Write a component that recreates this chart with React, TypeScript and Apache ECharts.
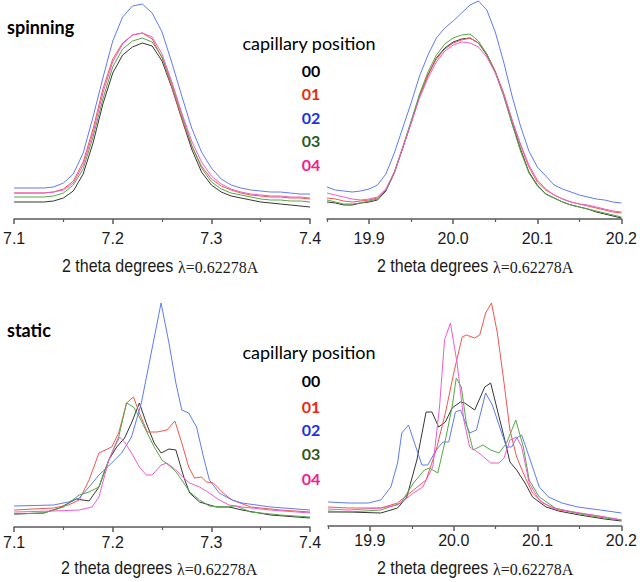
import React, { useEffect, useRef } from "react";
import * as echarts from "echarts";

// ---------- data (intensity in arbitrary units) ----------
const spinLowTheta = [7.10, 7.11, 7.12, 7.13, 7.14, 7.15, 7.16, 7.17, 7.18, 7.19, 7.20, 7.21, 7.22, 7.23, 7.24, 7.25, 7.26, 7.27, 7.28, 7.29, 7.30, 7.31, 7.32, 7.33, 7.34, 7.35, 7.36, 7.37, 7.38, 7.39, 7.40];
const spinLow00 = [17, 17, 17, 17, 18, 21, 28, 45, 76, 115, 146, 164, 172, 176, 173, 158, 131, 100, 70, 47, 34, 27, 23, 21, 19, 17, 16, 15, 14, 13, 12];
const spinLow01 = [26, 26, 26, 26, 27, 30, 38, 57, 90, 130, 160, 176, 184, 186, 180, 161, 132, 101, 73, 53, 40, 33, 29, 26, 24, 23, 22, 22, 21, 21, 20];
const spinLow02 = [31, 31, 31, 31, 32, 36, 45, 66, 102, 141, 178, 202, 213, 215, 206, 187, 156, 123, 91, 67, 51, 40, 34, 31, 29, 28, 27, 27, 26, 25, 25];
const spinLow03 = [22, 22, 22, 22, 23, 26, 34, 50, 82, 120, 152, 170, 178, 181, 177, 162, 135, 104, 74, 51, 37, 30, 26, 24, 22, 20, 19, 19, 18, 18, 17];
const spinLow04 = [26, 26, 26, 26, 27, 29, 36, 54, 86, 126, 157, 175, 184, 186, 182, 165, 137, 106, 78, 57, 43, 35, 30, 27, 25, 24, 23, 23, 22, 22, 21];

const spinHighTheta = [19.85, 19.86, 19.87, 19.88, 19.89, 19.90, 19.91, 19.92, 19.93, 19.94, 19.95, 19.96, 19.97, 19.98, 19.99, 20.00, 20.01, 20.02, 20.03, 20.04, 20.05, 20.06, 20.07, 20.08, 20.09, 20.10, 20.11, 20.12, 20.13, 20.14, 20.15, 20.16, 20.17, 20.18, 20.19, 20.20];
const spinHigh00 = [17, 16, 14, 14, 16, 17, 19, 28, 46, 71, 96, 123, 144, 161, 171, 177, 180, 181, 176, 164, 147, 124, 96, 70, 47, 34, 25, 21, 17, 14, 12, 10, 7, 5, 3, 1];
const spinHigh01 = [21, 20, 18, 17, 18, 19, 21, 29, 46, 71, 97, 123, 144, 160, 170, 176, 179, 181, 176, 165, 148, 126, 99, 74, 52, 37, 29, 24, 20, 17, 15, 13, 11, 9, 7, 6];
const spinHigh02 = [32, 29, 28, 27, 28, 30, 34, 45, 66, 91, 116, 143, 164, 181, 191, 198, 206, 214, 218, 209, 187, 157, 123, 93, 68, 52, 43, 34, 30, 27, 24, 22, 20, 19, 17, 16];
const spinHigh03 = [19, 17, 15, 15, 16, 18, 20, 29, 47, 72, 98, 125, 147, 164, 175, 181, 184, 185, 178, 165, 147, 123, 95, 68, 46, 33, 25, 21, 17, 14, 12, 10, 8, 6, 4, 2];
const spinHigh04 = [26, 24, 22, 20, 19, 20, 22, 30, 47, 71, 96, 121, 141, 157, 168, 174, 177, 176, 172, 162, 146, 125, 99, 75, 54, 39, 30, 24, 20, 17, 15, 14, 12, 10, 8, 7];

const staticLow00 = [[7.100, 13], [7.130, 14], [7.146, 19], [7.163, 28], [7.176, 26], [7.186, 40], [7.196, 67], [7.204, 80], [7.212, 89], [7.219, 104], [7.227, 124], [7.234, 104], [7.242, 84], [7.249, 74], [7.257, 78], [7.264, 77], [7.272, 50], [7.278, 34], [7.288, 25], [7.305, 20], [7.318, 20], [7.331, 17], [7.360, 12], [7.400, 9]];
const staticLow01 = [[7.100, 17], [7.140, 19], [7.155, 22], [7.166, 27], [7.176, 47], [7.186, 74], [7.199, 80], [7.206, 94], [7.214, 124], [7.221, 130], [7.227, 114], [7.235, 95], [7.245, 95], [7.255, 97], [7.263, 106], [7.270, 84], [7.277, 60], [7.283, 49], [7.290, 50], [7.295, 45], [7.302, 44], [7.312, 34], [7.321, 27], [7.340, 20], [7.370, 17], [7.400, 15]];
const staticLow02 = [[7.100, 21], [7.140, 22], [7.155, 25], [7.166, 29], [7.176, 40], [7.186, 52], [7.199, 64], [7.209, 74], [7.219, 90], [7.229, 124], [7.239, 174], [7.249, 224], [7.257, 184], [7.264, 144], [7.270, 117], [7.277, 114], [7.285, 100], [7.292, 70], [7.298, 47], [7.308, 34], [7.321, 27], [7.331, 24], [7.360, 20], [7.400, 17]];
const staticLow03 = [[7.100, 13], [7.130, 14], [7.150, 20], [7.166, 32], [7.176, 35], [7.186, 40], [7.192, 57], [7.199, 74], [7.206, 90], [7.214, 124], [7.221, 120], [7.227, 110], [7.235, 94], [7.242, 80], [7.250, 67], [7.259, 60], [7.265, 54], [7.272, 44], [7.278, 35], [7.288, 27], [7.298, 21], [7.312, 20], [7.325, 21], [7.340, 15], [7.370, 12], [7.400, 10]];
const staticLow04 = [[7.100, 15], [7.140, 16], [7.166, 17], [7.179, 20], [7.186, 30], [7.196, 67], [7.202, 80], [7.207, 90], [7.212, 85], [7.219, 74], [7.227, 60], [7.234, 52], [7.240, 52], [7.249, 62], [7.255, 64], [7.264, 57], [7.272, 49], [7.278, 44], [7.288, 40], [7.298, 34], [7.308, 27], [7.318, 22], [7.331, 20], [7.360, 17], [7.400, 14]];

const staticHigh00 = [[19.850, 14], [19.875, 14], [19.913, 13], [19.933, 18], [19.944, 29], [19.956, 66], [19.967, 114], [19.974, 114], [19.982, 99], [19.990, 104], [19.998, 118], [20.008, 124], [20.013, 123], [20.025, 116], [20.037, 139], [20.044, 143], [20.052, 116], [20.060, 89], [20.067, 64], [20.075, 56], [20.085, 43], [20.094, 29], [20.110, 19], [20.125, 15], [20.150, 11], [20.180, 7], [20.200, 5]];
const staticHigh01 = [[19.850, 19], [19.875, 18], [19.913, 18], [19.933, 23], [19.952, 36], [19.967, 46], [19.979, 76], [19.990, 113], [20.000, 153], [20.010, 189], [20.015, 191], [20.025, 188], [20.031, 191], [20.038, 213], [20.045, 223], [20.052, 193], [20.060, 143], [20.067, 96], [20.075, 69], [20.085, 49], [20.094, 33], [20.106, 23], [20.125, 16], [20.150, 13], [20.180, 9], [20.200, 6]];
const staticHigh02 = [[19.850, 24], [19.875, 23], [19.898, 23], [19.913, 26], [19.925, 39], [19.933, 63], [19.938, 93], [19.946, 101], [19.952, 86], [19.962, 61], [19.969, 61], [19.979, 76], [19.987, 84], [19.994, 84], [20.002, 114], [20.008, 116], [20.019, 93], [20.027, 96], [20.038, 133], [20.046, 121], [20.056, 96], [20.063, 79], [20.069, 79], [20.075, 88], [20.081, 91], [20.090, 69], [20.102, 39], [20.113, 29], [20.129, 23], [20.148, 19], [20.175, 16], [20.200, 13]];
const staticHigh03 = [[19.850, 15], [19.875, 14], [19.913, 16], [19.937, 23], [19.952, 43], [19.965, 56], [19.971, 58], [19.981, 53], [19.990, 86], [19.998, 119], [20.003, 148], [20.009, 139], [20.015, 103], [20.023, 76], [20.035, 81], [20.044, 76], [20.054, 73], [20.063, 83], [20.074, 106], [20.083, 79], [20.090, 46], [20.102, 29], [20.121, 18], [20.150, 12], [20.180, 8], [20.200, 6]];
const staticHigh04 = [[19.850, 17], [19.875, 16], [19.913, 18], [19.933, 21], [19.952, 33], [19.963, 39], [19.975, 59], [19.983, 119], [19.989, 186], [19.996, 203], [20.004, 163], [20.012, 106], [20.019, 79], [20.025, 76], [20.033, 71], [20.044, 63], [20.054, 63], [20.060, 68], [20.067, 86], [20.075, 89], [20.081, 79], [20.090, 43], [20.102, 26], [20.117, 18], [20.150, 13], [20.180, 9], [20.200, 6]];

const positionCodes = ["00", "01", "02", "03", "04"];
const legendColors = ["#000000", "#f0260e", "#1830e8", "#2f5a1c", "#f0208e"];
const lineColors = ["#363636", "#f2564e", "#5d7cf0", "#55a844", "#ee5ccc"];

const lowMajorTicks = [7.1, 7.2, 7.3, 7.4];
const lowMinorTicks = [7.15, 7.25, 7.35];
const highMajorTicks = [19.9, 20.0, 20.1, 20.2];
const highMinorTicks = [19.85, 19.95, 20.05, 20.15];

const panelTitles = ["spinning", "static"];
const legendTitle = "capillary position";
const axisTitleMain = "2 theta degrees";
const axisTitleWave = "λ=0.62278A";

// ---------- layout ----------
const panels = [
  { left: 7, top: 0, width: 303, height: 219, yMax: 219, xMin: 7.1, xMax: 7.4, major: lowMajorTicks, minor: lowMinorTicks, labelMargin: 11, titleX: 62, titleY: 266 },
  { left: 327, top: 0, width: 303, height: 219, yMax: 219, xMin: 19.85, xMax: 20.2, major: highMajorTicks, minor: highMinorTicks, labelMargin: 11, titleX: 377, titleY: 266 },
  { left: 7, top: 287, width: 303, height: 240, yMax: 240, xMin: 7.1, xMax: 7.4, major: lowMajorTicks, minor: lowMinorTicks, labelMargin: 7, titleX: 61, titleY: 568 },
  { left: 328, top: 286, width: 303, height: 240, yMax: 240, xMin: 19.85, xMax: 20.2, major: highMajorTicks, minor: highMinorTicks, labelMargin: 6, titleX: 377, titleY: 568 },
];

const zip = (xs: number[], ys: number[]) => xs.map((x, i) => [x, ys[i]]);

const panelSeries: number[][][][] = [
  [spinLow00, spinLow01, spinLow02, spinLow03, spinLow04].map((s) => zip(spinLowTheta, s)),
  [spinHigh00, spinHigh01, spinHigh02, spinHigh03, spinHigh04].map((s) => zip(spinHighTheta, s)),
  [staticLow00, staticLow01, staticLow02, staticLow03, staticLow04],
  [staticHigh00, staticHigh01, staticHigh02, staticHigh03, staticHigh04],
];

const AXIS_COLOR = "#5a5a5a";
const TEXT_FONT = "Lato, 'Open Sans', sans-serif";
const AXIS_FONT = "'Liberation Sans', Arial, sans-serif";
const SERIF_FONT = "'Liberation Serif', 'Times New Roman', serif";
const NARROW = 0.89;

function buildOption() {
  const grid = panels.map((p) => ({ left: p.left, top: p.top, width: p.width, height: p.height }));
  const xAxis: any[] = [];
  const yAxis: any[] = [];
  const series: any[] = [];
  const graphic: any[] = [];
  panels.forEach((p, g) => {
    xAxis.push({
      type: "value",
      gridIndex: g,
      position: "bottom",
      min: p.xMin,
      max: p.xMax,
      axisLine: { show: true, onZero: false, lineStyle: { color: AXIS_COLOR, width: 1.5 } },
      axisTick: { show: true, inside: false, length: 5, customValues: p.major, lineStyle: { color: AXIS_COLOR, width: 1.5 } },
      axisLabel: {
        show: true,
        customValues: p.major,
        formatter: (v: number) => v.toFixed(1),
        fontSize: 16,
        fontFamily: AXIS_FONT,
        color: "#1a1a1a",
        margin: p.labelMargin,
      },
      splitLine: { show: false },
    });
    xAxis.push({
      type: "value",
      gridIndex: g,
      position: "bottom",
      min: p.xMin,
      max: p.xMax,
      axisLine: { show: false, onZero: false },
      axisTick: { show: true, inside: false, length: 3, customValues: p.minor, lineStyle: { color: AXIS_COLOR, width: 1.2 } },
      axisLabel: { show: false },
      splitLine: { show: false },
    });
    yAxis.push({ type: "value", gridIndex: g, min: 0, max: p.yMax, show: false });
    panelSeries[g].forEach((data, k) => {
      series.push({
        type: "line",
        name: `${g}-${positionCodes[k]}`,
        xAxisIndex: g * 2,
        yAxisIndex: g,
        data,
        showSymbol: false,
        symbol: "none",
        smooth: false,
        silent: true,
        lineStyle: { color: lineColors[k], width: 1 },
        itemStyle: { color: lineColors[k] },
        z: 2 + k,
      });
    });
    // axis title: narrow sans part + serif wavelength part
    graphic.push({
      type: "text",
      x: p.titleX,
      y: p.titleY,
      scaleX: NARROW,
      style: { text: axisTitleMain, font: `18px ${AXIS_FONT}`, fill: "#1a1a1a", align: "left", verticalAlign: "middle" },
    });
    graphic.push({
      type: "text",
      x: p.titleX + 116,
      y: p.titleY + 1,
      style: { text: axisTitleWave, font: `16px ${SERIF_FONT}`, fill: "#1a1a1a", align: "left", verticalAlign: "middle" },
    });
  });

  const legendBlocks = [
    { title: panelTitles[0], titleY: 27, legY: 43, codeY: [70, 93, 117, 140, 164] },
    { title: panelTitles[1], titleY: 330, legY: 352, codeY: [380, 406, 429, 453, 478] },
  ];
  legendBlocks.forEach((b) => {
    graphic.push({
      type: "text",
      x: 7,
      y: b.titleY,
      style: { text: b.title, font: `bold 18px ${TEXT_FONT}`, fill: "#000", align: "left", verticalAlign: "middle" },
    });
    graphic.push({
      type: "text",
      x: 309,
      y: b.legY,
      style: { text: legendTitle, font: `18px ${TEXT_FONT}`, fill: "#000", align: "center", verticalAlign: "middle" },
    });
    positionCodes.forEach((c, i) => {
      graphic.push({
        type: "text",
        x: 311,
        y: b.codeY[i],
        style: { text: c, font: `bold 16px ${TEXT_FONT}`, fill: legendColors[i], align: "center", verticalAlign: "middle" },
      });
    });
  });

  return {
    animation: false,
    backgroundColor: "#ffffff",
    grid,
    xAxis,
    yAxis,
    series,
    graphic,
  };
}

export default function App() {
  const ref = useRef<HTMLDivElement>(null);
  useEffect(() => {
    document.body.style.margin = "0";
    if (!ref.current) return;
    const chart = echarts.init(ref.current, undefined, { renderer: "svg" });
    chart.setOption(buildOption());
    return () => chart.dispose();
  }, []);
  return <div ref={ref} style={{ width: 640, height: 582 }} />;
}
